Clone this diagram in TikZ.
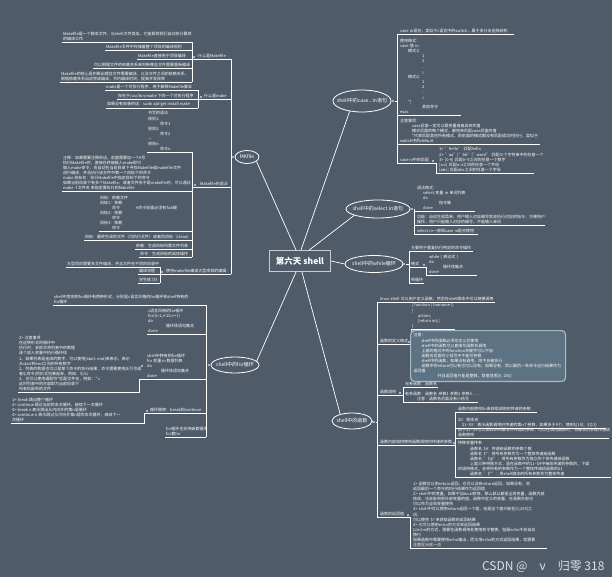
\documentclass[tikz,border=0pt]{standalone}
\usepackage{fontspec}
\setmainfont{Noto Sans CJK SC}
\usetikzlibrary{shapes.geometric}
\newcommand\leaffont{\fontsize{4}{5.1}\selectfont}
\newcommand\topicfont{\fontsize{5}{6}\selectfont}
\newcommand\indn[1]{\makebox[#1]{}}
\begin{document}
\begin{tikzpicture}[x=1pt,y=-1pt,
  ln/.style={draw=white,line width=0.7pt},
  txt/.style={text=white,font=\leaffont,inner xsep=1pt,inner ysep=0.8pt,
    anchor=south west,align=left,
    execute at begin node={\hyphenpenalty=10000\exhyphenpenalty=10000}},
  topic/.style={ellipse,draw=white,line width=0.8pt,inner sep=0pt},
  topictext/.style={text=white,font=\topicfont,inner sep=0pt},
  knob/.style={fill=knobc,minimum size=2.8pt,inner sep=0pt},
  notebox/.style={txt,anchor=north west,fill=notec,draw=noteline,line width=1.2pt,
    rounded corners=4pt,inner xsep=3pt,inner ysep=3pt}]
\definecolor{bgc}{RGB}{79,91,104}
\definecolor{knobc}{RGB}{160,178,228}
\definecolor{rootc}{RGB}{200,204,208}
\definecolor{notec}{RGB}{93,114,130}
\definecolor{noteline}{RGB}{168,184,196}
\definecolor{wmc}{RGB}{222,224,228}
\useasboundingbox (0,0) rectangle (612,577);
\fill[bgc] (0,0) rectangle (612,577);

\node[draw=rootc,line width=1pt,fill=bgc,minimum width=61pt,minimum height=21pt,
  text=white,font=\fontsize{8.5}{10}\selectfont\bfseries] (root) at (300,261) {第六天 shell};
\node[topic,minimum width=24pt,minimum height=13pt,label={[topictext]center:MKfile}] (emk) at (247,157) {};
\node[topic,minimum width=58pt,minimum height=22pt,label={[topictext]center:shell中的case...in语句}] (ecase) at (362,101) {};
\node[topic,minimum width=64pt,minimum height=18pt,label={[topictext]center:shell中的select in语句}] (esel) at (378,209) {};
\node[topic,minimum width=58pt,minimum height=17pt,label={[topictext]center:shell中的while循环}] (ewhile) at (374,264) {};
\node[topic,minimum width=48pt,minimum height=16pt,label={[topictext]center:shell中的for循环}] (efor) at (235,365) {};
\node[topic,minimum width=40pt,minimum height=16pt,label={[topictext]center:shell中的函数}] (efun) at (352,421) {};

\draw[ln] (root.110) -- (emk.-25);
\draw[ln] (root.85) -- (ecase.-140);
\draw[ln] (root.50) -- (esel.-165);
\draw[ln] (root.east) -- (ewhile.west);
\draw[ln] (root.-110) -- (efor.10);
\draw[ln] (root.-80) -- (efun.150);

\foreach \nm/\px/\py in {kmk/233/157,kcase/393/101,ksel/412/209,kwh/404/264,kfor/209/365,kfun/374/422,
  kA/194/57,kB/201/97,kC/195/185,kD/162/272,kf3/142/366,kf4/147/411,kk4/433/161,kw2/424/265,
  kh2/409/342,kh3/400/393,kh4/454/443,kh5/408/515}
  \node[knob] (\nm) at (\px,\py) {};

% MKfile
\coordinate (mkS) at (231,0);
\coordinate (brA) at (192,0);
\coordinate (brB) at (198,0);
\coordinate (brD) at (160,0);
\node[txt] (a1) at (62,42) {Makefile是一个脚本文件，与shell文件类似，它能帮助我们自动执行繁琐\\的编译工作};
\node[txt] (a2) at (105,50) {Makefile文件中存储着整个项目的编译规则};
\node[txt] (a3) at (137,59) {Makefile直接用于项目编译};
\node[txt] (a4) at (93,68) {可以根据文件的依赖关系来判断哪些文件需要重新编译};
\node[txt] (a5) at (60,82) {Makefile的核心是判断出哪些文件需要编译，以及文件之间的依赖关系，\\根据依赖关系自动完成编译，节约编译时间，提高开发效率};
\node[txt] (lA) at (197,59) {什么是Makefile};
\node[txt] (b1) at (105,90) {make是一个可执行程序，用于解释Makefile脚本};
\node[txt] (b2) at (117,99) {存在于/usr/bin/make 下的一个可执行程序};
\node[txt] (b3) at (106,108) {如果没有安装的话：sudo apt-get install make};
\node[txt] (lB) at (203,99) {什么是make};
\node[txt] (c1) at (147,152) {书写的语法\\规则1:\\\indn{12pt}命令1\\规则2:\\\indn{12pt}命令2\\---\\规则n:\\\indn{12pt}命令n};
\node[txt] (c2) at (62,191) {注释：如果需要注释的话，前面需要加一个\#号\\执行Makefile时，直接在终端输入make即可\\输入make命令，会自动在当前目录下寻找Makefile或makefile文件\\进行编译，并且执行该文件中第一个目标下的命令\\make 目标名：执行Makefile中指定目标下的命令\\如果当前目录下有多个Makefile，或者文件名不是makefile时，可以通过\\make -f 文件名 来指定要执行的Makefile};
\node[txt] (c3) at (99,231) {目标：依赖文件\\目标1：依赖\\\indn{12pt}命令\indn{16pt}\#命令前面必须有Tab键\\目标2：依赖\\\indn{12pt}命令\\目标3：依赖\\\indn{12pt}命令};
\node[txt] (c4) at (84,240) {目标：最终生成的文件（可执行文件）或者伪目标（clean）};
\node[txt] (c5) at (135,249) {依赖：生成目标所需文件列表};
\node[txt] (c6) at (139,257) {命令：生成目标的具体操作};
\node[txt] (lC) at (199,187) {Makefile的语法};
\node[txt] (d1) at (66,267) {大型项目需要多文件编译，并且文件在不同的目录中};
\node[txt] (d2) at (138,274) {编译流程};
\node[txt] (d3) at (138,283) {学生练习3};
\node[txt] (lD) at (165,274) {使用makefile编译大型项目的编辑};
\draw[ln] (emk.west) -- (kmk.east);
\draw[ln] (kmk.west) -- (kmk.west -| mkS);
\draw[ln] (lA.south west -| mkS) -- (lD.south west -| mkS);
\draw[ln] (lA.south west -| brA) -- (lA.south west -| mkS);
\draw[ln] (lB.south west -| brB) -- (lB.south west -| mkS);
\draw[ln] (lC.south west -| brA) -- (lC.south west -| mkS);
\draw[ln] (lD.south west -| brD) -- (lD.south west -| mkS);
\draw[ln] (a1.south west -| brA) -- (a5.south west -| brA);
\draw[ln] (b1.south west -| brB) -- (b3.south west -| brB);
\draw[ln] (c1.south west -| brA) -- (c6.south west -| brA);
\draw[ln] (d1.south west -| brD) -- (d3.south west -| brD);
\foreach \n in {a1,a2,a3,a4,a5,c1,c2,c3,c4,c5,c6} \draw[ln] (\n.south west) -- (\n.south west -| brA);
\foreach \n in {b1,b2,b3} \draw[ln] (\n.south west) -- (\n.south west -| brB);
\foreach \n in {d1,d2,d3} \draw[ln] (\n.south west) -- (\n.south west -| brD);

% for
\coordinate (forS) at (206,0);
\coordinate (brF3) at (139,0);
\coordinate (brF4) at (144,0);
\node[txt] (f1) at (53,305) {shell中常用的for循环有两种形式，分别是c语言风格的for循环和shell特有的\\for循环};
\node[txt] (f2) at (147,334) {c语言风格的for循环\\for((i=1;i<10;i++))\\do\\\indn{18pt}循环体语句集合\\done};
\node[txt] (f3) at (146,379) {shell中特有的for循环\\for 变量 in 数据列表\\do\\\indn{14pt}循环体语句集合\\done};
\node[txt] (f3a) at (18,392) {2> 注意事项\\在这种形式的循环中\\执行时，会依次将列表中的数据\\逐个放入变量中执行循环体\\1、如果列表是连续的数字，可以使用\{start..end\}来表示，表示\\从start到end之间的所有数字\\2、列表的数据也可以是某个命令的执行结果，命令需要使用反引号或\\者\$(命令)的形式包裹起来，例如：\$(ls)\\3、也可以使用通配符*匹配文件名，例如：*.c\\此时列表中的内容即为当前目录下\\所有匹配到的文件};
\node[txt] (lf4) at (149,413) {循环跳转：break和continue};
\node[txt] (f4a) at (11,423) {1> break 跳出整个循环\\2> continue 跳过当前的本次循环，继续下一次循环\\3> break n 表示跳出从内向外的第n层循环\\4> continue n 表示跳过从内向外第n层的本次循环，继续下一\\次循环};
\node[txt] (f5) at (165,437) {for循环也支持嵌套循环\\for套for};
\draw[ln] (efor.west) -- (kfor.east);
\draw[ln] (kfor.west) -- (kfor.west -| forS);
\draw[ln] (f1.south west -| forS) -- (f5.south west -| forS);
\foreach \n in {f1,f2,f5} \draw[ln] (\n.south west) -- (\n.south west -| forS);
\draw[ln] (f3a.south west) -| (f3.south west -| brF3) -- (f3.south west -| forS);
\draw[ln] (f4a.south west) -| (lf4.south west -| brF4) -- (lf4.south west -| forS);

% case in
\coordinate (caseS) at (397,0);
\coordinate (brK) at (436,0);
\node[txt,text width=113pt] (k1) at (399,34) {case~in语句，类似于c语言中的switch，属于多分支选择结构};
\node[txt,text width=60pt] (k2) at (399,115) {使用格式：\\case~值~in\\\indn{8pt}模式1)\\\indn{22pt}1\\\indn{22pt}2\\\indn{22pt}...\\\indn{22pt};;\\\indn{8pt}模式2)\\\indn{22pt}1\\\indn{22pt}2\\\indn{22pt}...\\\indn{22pt};;\\\indn{8pt}*)\\\indn{22pt}其他命令\\esac};
\node[txt,text width=139pt] (k3) at (399,144) {注意事项：\\\indn{12pt}case后面一定可以跟变量或者具体的值\\\indn{12pt}模式后面的每个模式，都用来匹配case后面的值\\\indn{12pt}*代表匹配其他所有模式，即前面的模式都没有匹配成功时执行，类似于\\switch中的default};
\node[txt] (lk4) at (399,163) {case in中的匹配};
\node[txt,text width=94pt] (k4a) at (438,173) {1>~"hello"~匹配hello\\2>~"aa"|"bb"|"word"~匹配三个字符串中的任意一个\\3>~[0-9]~匹配0\textasciitilde 9之间的任意一个数字\\{}[a-z]~匹配a\textasciitilde z之间的任意一个字母\\{}[abc]~匹配abc之间的任意一个字母};
\draw[ln] (ecase.east) -- (kcase.west);
\draw[ln] (kcase.east) -- (kcase.east -| caseS);
\draw[ln] (k1.south west -| caseS) -- (lk4.south west -| caseS);
\foreach \n in {k1,k2,k3} \draw[ln] (\n.south west -| caseS) -- (\n.south east);
\draw[ln] (lk4.south west -| caseS) -- (lk4.south west -| brK) -- (k4a.south west -| brK) -- (k4a.south east);

% select in
\coordinate (selS) at (414,0);
\node[txt,text width=57pt] (s1) at (416,211) {语法格式：\\\indn{6pt}select~变量~in~单词列表\\\indn{6pt}do\\\indn{22pt}指令集\\\indn{6pt}done};
\node[txt,text width=127pt] (s2) at (416,225) {功能：自动生成菜单，用户输入对应编号就会执行对应的指令，方便用户\\操作，用户只能输入对应的编号，不能输入单词};
\node[txt,text width=60pt] (s3) at (416,234) {select~in一般和case~in配合使用};
\draw[ln] (esel.east) -- (ksel.west);
\draw[ln] (ksel.east) -- (ksel.east -| selS) -- (s3.south west -| selS);
\foreach \n in {s1,s2,s3} \draw[ln] (\n.south west -| selS) -- (\n.south east);

% while
\coordinate (whS) at (409,0);
\node[txt,text width=61pt] (w1) at (410,251) {主要用于重复执行特定的命令操作};
\node[txt,text width=14pt] (lw2) at (410,267) {格式};
\node[txt,text width=47pt] (w2a) at (428,275) {while~[~表达式~]\\do\\\indn{14pt}循环体集合\\done};
\node[txt] (w3) at (410,283) {死循环};
\draw[ln] (ewhile.east) -- (kwh.west);
\draw[ln] (kwh.east) -- (kwh.east -| whS);
\draw[ln] (w1.south west -| whS) -- (w3.south west -| whS);
\foreach \n in {w1,w3} \draw[ln] (\n.south west -| whS) -- (\n.south east);
\draw[ln] (lw2.south west -| whS) -- (lw2.south east) |- (w2a.south east);

% functions
\coordinate (funS) at (377,0);
\coordinate (brH2) at (411,0);
\coordinate (brH3) at (403,0);
\coordinate (brH4) at (455,0);
\coordinate (brH5) at (410,0);
\node[txt,text width=114pt] (h1) at (379,302) {linux~shell~可以用户定义函数，然后在shell脚本中可以随便调用};
\node[txt] (lh2) at (379,344) {函数的定义格式};
\node[txt] (h2a) at (411,329) {[ function ] funname ()\\\{\\\indn{6pt}action;\\\indn{6pt}[return int;]\\\}};
\node[txt] (lh3) at (379,395) {函数调用};
\node[txt] (h3a) at (404,387) {无参函数：函数名};
\node[txt,text width=72pt] (h3b) at (404,402) {有参函数：函数名~参数1~参数2~参数3~......\\\indn{12pt}注意：函数名后面没有小括号};
\node[txt] (lh4) at (379,445) {函数内部如何使用函数调用时传递的参数};
\node[txt,text width=78pt] (h4a) at (457,412) {函数内部使用\$n来获取调用时传递的参数};
\node[txt,text width=147pt] (h4b) at (457,428) {\$0：脚本名\\\indn{4pt}\$1\textasciitilde\$9：表示函数调用时传递的第n个参数，如果多于9个，使用\$\{10\}、\$\{11\}};
\node[txt,text width=150pt] (h4c) at (457,438) {由于\$1\textasciitilde\$9可以获取shell脚本中传递的参数，可以在调用函数时，将脚本的参数传递给\\函数使用};
\node[txt,text width=152pt] (h4d) at (457,477) {特殊变量传参\\\indn{12pt}函数名~\$\#：传递给函数的参数个数\\\indn{12pt}函数名~\$*：将所有参数作为一个整体传递给函数\\\indn{12pt}函数名~"\$@"：将所有参数作为独立的个体传递给函数\\\indn{12pt}上面三种特殊方式，是在函数中的\$1\textasciitilde\$9中接收传递的参数的，下面\\的调用格式，会将所有的参数作为一个整体传递给函数的\$1\\\indn{12pt}函数名~"\$*"：将shell脚本的所有参数作为整体传递};
\node[txt] (lh5) at (379,517) {函数的返回值};
\node[txt,text width=133pt] (h5a) at (412,548) {1>~函数可以用return返回，也可以没有return返回，如果没有，则\\返回最后一个命令的执行结果作为返回值\\2>~shell中的变量，如果不加local修饰，那么默认都是全局变量，函数内部\\修改，也会影响到外部变量的值，函数中定义的变量，在函数外部也\\可以作为全局变量使用\\3>~shell中可以使用return返回一个值，但是这个值只能在[0,255]之\\间，\\可以使用~\$?~来获取函数的返回结果\\4>~也可以使用echo的方式来返回结果\\以echo的方式，需要在函数调用处使用命令替换，但是echo不会自动\\换行\\如果函数中需要使用echo输出，而又用echo的方式返回结果，就需要\\注意区分这一点};
\draw[ln] (efun.east) -- (kfun.west);
\draw[ln] (kfun.east) -- (kfun.east -| funS);
\draw[ln] (h1.south west -| funS) -- (lh5.south west -| funS);
\draw[ln] (h1.south west -| funS) -- (h1.south east);
\draw[ln] (lh2.south west -| funS) -- (lh2.south west -| brH2) -- (h2a.south west -| brH2) -- (h2a.south east);
\draw[ln] (lh3.south west -| funS) -- (lh3.south west -| brH3);
\draw[ln] (h3a.south west -| brH3) -- (h3b.south west -| brH3);
\foreach \n in {h3a,h3b} \draw[ln] (\n.south west -| brH3) -- (\n.south east);
\draw[ln] (lh4.south west -| funS) -- (lh4.south west -| brH4);
\draw[ln] (h4a.south west -| brH4) -- (h4d.south west -| brH4);
\foreach \n in {h4a,h4b,h4c,h4d} \draw[ln] (\n.south west -| brH4) -- (\n.south east);
\draw[ln] (lh5.south west -| funS) -- (lh5.south west -| brH5) -- (h5a.south west -| brH5) -- (h5a.south east);
\node[notebox,text width=149pt] (h2b) at (410,330) {注意：\\\indn{8pt}shell中的函数必须先定义后使用\\\indn{8pt}shell中的函数可以直接写函数名调用\\\indn{8pt}上面的格式中的function关键字可以不加\\\indn{8pt}函数名后面的小括号中不能写参数\\\indn{8pt}shell中的函数，如果没有调用，则不会被执行\\\indn{8pt}函数中的return可以有也可以没有，如果没有，则以最后一条命令运行结果作为\\返回值\\\indn{24pt}并且返回值只能是整数，取值范围[0,~255]};

\node[text=wmc,font=\fontsize{12}{14}\selectfont,anchor=east] (wm) at (608,566) {CSDN @\quad ν\quad 归零 318};
\end{tikzpicture}
\end{document}
